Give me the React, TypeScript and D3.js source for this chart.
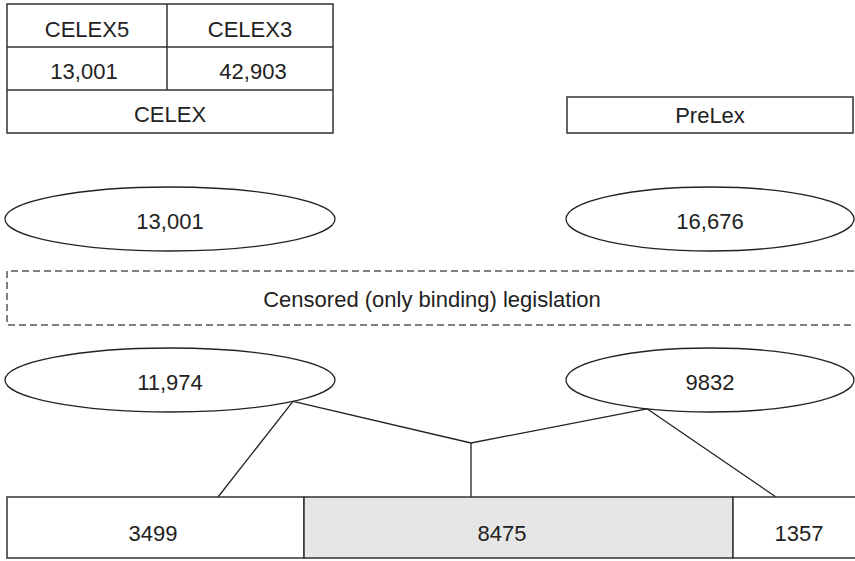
import * as React from "react"
import * as d3 from "d3"

// top source table
const sourceNames = ["CELEX5", "CELEX3"]
const sourceCounts = [13001, 42903]
const databases = ["CELEX", "PreLex"]

// ellipse values, two rows: raw counts and after censoring
const rawCounts = [13001, 16676]
const censoredCounts = [11974, 9832]
const censorLabel = "Censored (only binding) legislation"

// bottom split: CELEX only, both, PreLex only
const splitValues = [3499, 8475, 1357]
const splitFills = ["#ffffff", "#e6e6e6", "#ffffff"]

const fmt = (v: number) => (v >= 10000 ? d3.format(",")(v) : String(v))

export default function App() {
    const [w, h] = [855, 561]
    const font = "'Liberation Sans', Arial, sans-serif"
    const ink = "#222"

    // column centres for left/right ellipses and boxes
    const col = d3.scaleOrdinal<number, number>().domain([0, 1]).range([170, 710])
    const rx = d3.scaleOrdinal<number, number>().domain([0, 1]).range([165, 144])
    const ry = 32

    // vertical bands of the diagram
    const y = d3.scaleOrdinal<string, number>()
        .domain(["tableTop", "row1", "row2", "tableBottom", "prelexTop", "raw", "censorTop", "censorBottom", "censored", "junction", "barTop", "barBottom"])
        .range([4, 47, 90, 133, 97, 219, 271, 325, 380, 443, 497, 558])

    // segment edges of the bottom bar (not proportional in the original)
    const seg = d3.scaleLinear().domain([0, 1, 2, 3]).range([7, 304, 733, 872])
    const segLabelX = [153, 502, 799]

    const tableX = d3.scaleLinear().domain([0, 1, 2]).range([7, 167, 333])

    const line = d3.line<[number, number]>()

    // connectors from censored ellipses down into the bar
    const pointOnEllipse = (i: number, x: number) => {
        const t = (x - col(i)) / rx(i)
        return [x, y("censored") + ry * Math.sqrt(Math.max(0, 1 - t * t))] as [number, number]
    }
    const leftFoot = pointOnEllipse(0, 293)
    const rightFoot = pointOnEllipse(1, 647)
    const mid: [number, number] = [471, y("junction")]
    const connectors = [
        [leftFoot, [218, y("barTop")]],
        [leftFoot, mid],
        [mid, [mid[0], y("barTop")]],
        [rightFoot, mid],
        [rightFoot, [776, y("barTop")]],
    ] as [number, number][][]

    const textProps = { fontFamily: font, fontSize: 22, fill: ink, textAnchor: "middle" as const, dominantBaseline: "central" as const }

    return (
        <svg width={w} height={h} style={{ position: "absolute", left: 0, top: 0, background: "#fff" }}>
            {/* table */}
            <g stroke="#333" strokeWidth={1.5} fill="none">
                <rect x={tableX(0)} y={y("tableTop")} width={tableX(2) - tableX(0)} height={y("tableBottom") - y("tableTop")} />
                <line x1={tableX(0)} x2={tableX(2)} y1={y("row1")} y2={y("row1")} />
                <line x1={tableX(0)} x2={tableX(2)} y1={y("row2")} y2={y("row2")} />
                <line x1={tableX(1)} x2={tableX(1)} y1={y("tableTop")} y2={y("row2")} />
                <rect x={567} y={y("prelexTop")} width={286} height={y("tableBottom") - y("prelexTop")} />
            </g>
            {sourceNames.map((n, i) => (
                <g key={n}>
                    <text x={(tableX(i) + tableX(i + 1)) / 2} y={(y("tableTop") + y("row1")) / 2 + 4} {...textProps}>{n}</text>
                    <text x={(tableX(i) + tableX(i + 1)) / 2 + (i === 1 ? 3 : -3)} y={(y("row1") + y("row2")) / 2 + 3} {...textProps}>{fmt(sourceCounts[i])}</text>
                </g>
            ))}
            <text x={(tableX(0) + tableX(2)) / 2} y={(y("row2") + y("tableBottom")) / 2 + 3} {...textProps}>{databases[0]}</text>
            <text x={710} y={(y("prelexTop") + y("tableBottom")) / 2} {...textProps}>{databases[1]}</text>

            {/* raw counts */}
            {rawCounts.map((v, i) => (
                <g key={"raw" + i}>
                    <ellipse cx={col(i)} cy={y("raw")} rx={rx(i)} ry={ry} fill="#fff" stroke={ink} strokeWidth={1.3} />
                    <text x={col(i)} y={y("raw") + 2} {...textProps}>{fmt(v)}</text>
                </g>
            ))}

            {/* censoring box */}
            <path
                d={`M${w + 10},${y("censorTop")} H7 V${y("censorBottom")} H${w + 10}`}
                fill="none"
                stroke="#555"
                strokeWidth={1.5}
                strokeDasharray="7,4"
            />
            <text x={432} y={(y("censorTop") + y("censorBottom")) / 2 + 1} {...textProps}>{censorLabel}</text>

            {/* connectors */}
            <g stroke={ink} strokeWidth={1.3} fill="none">
                {connectors.map((c, i) => <path key={i} d={line(c) ?? ""} />)}
            </g>

            {/* censored counts */}
            {censoredCounts.map((v, i) => (
                <g key={"cen" + i}>
                    <ellipse cx={col(i)} cy={y("censored")} rx={rx(i)} ry={ry} fill="none" stroke={ink} strokeWidth={1.3} />
                    <text x={col(i)} y={y("censored") + 2} {...textProps}>{fmt(v)}</text>
                </g>
            ))}

            {/* bottom split bar */}
            {splitValues.map((v, i) => (
                <g key={"seg" + i}>
                    <rect
                        x={seg(i)}
                        y={y("barTop")}
                        width={seg(i + 1) - seg(i)}
                        height={y("barBottom") - y("barTop")}
                        fill={splitFills[i]}
                        stroke="#333"
                        strokeWidth={1.5}
                    />
                    <text x={segLabelX[i]} y={(y("barTop") + y("barBottom")) / 2 + 6} {...textProps}>{fmt(v)}</text>
                </g>
            ))}
        </svg>
    )
}
